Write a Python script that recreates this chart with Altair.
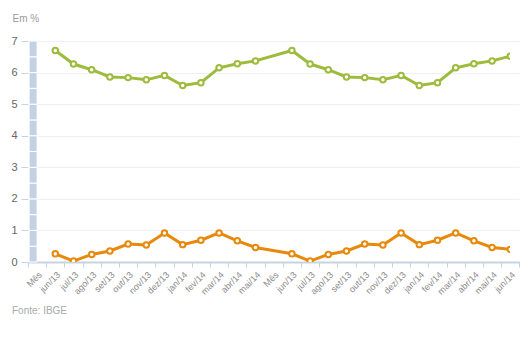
import altair as alt
import pandas as pd

# categories along the x axis (two sequences, each introduced by "Mês")
categorias = ["Mês", "jun/13", "jul/13", "ago/13", "set/13", "out/13", "nov/13", "dez/13",
              "jan/14", "fev/14", "mar/14", "abr/14", "mai/14",
              "Mês", "jun/13", "jul/13", "ago/13", "set/13", "out/13", "nov/13", "dez/13",
              "jan/14", "fev/14", "mar/14", "abr/14", "mai/14", "jun/14"]

# IPCA acumulado em 12 meses (verde)
acumulado_12m = [None, 6.70, 6.27, 6.09, 5.86, 5.84, 5.77, 5.91, 5.59, 5.68, 6.15, 6.28, 6.37,
                 None, 6.70, 6.27, 6.09, 5.86, 5.84, 5.77, 5.91, 5.59, 5.68, 6.15, 6.28, 6.37, 6.52]

# IPCA mensal (laranja)
mensal = [None, 0.26, 0.03, 0.24, 0.35, 0.57, 0.54, 0.92, 0.55, 0.69, 0.92, 0.67, 0.46,
          None, 0.26, 0.03, 0.24, 0.35, 0.57, 0.54, 0.92, 0.55, 0.69, 0.92, 0.67, 0.46, 0.40]

# column at the first "Mês" category, built of equal stacked segments
coluna_segmentos = [0.5] * 14

series = ["12 meses", "Mensal"]
cores = ["#9dbb3d", "#e8890c"]
y_ticks = [0, 1, 2, 3, 4, 5, 6, 7]
fonte = ["Fonte: IBGE"]

keys = [f"{i:02d}|{c}" for i, c in enumerate(categorias)]

rows = []
for k, v in zip(keys, acumulado_12m):
    if v is not None:
        rows.append({"cat": k, "valor": v, "serie": series[0]})
for k, v in zip(keys, mensal):
    if v is not None:
        rows.append({"cat": k, "valor": v, "serie": series[1]})
df = pd.DataFrame(rows)

df_bar = pd.DataFrame({"cat": [keys[0]] * len(coluna_segmentos),
                       "valor": coluna_segmentos,
                       "seg": list(range(len(coluna_segmentos)))})
df_txt = pd.DataFrame({"t": fonte})

FONT = "Liberation Sans"
W = 482
H = 221

x_scale = alt.Scale(domain=keys, paddingInner=0, paddingOuter=0, range=[0, 491.4])
y_scale = alt.Scale(domain=[0, 7], nice=False)

x_axis = alt.Axis(title=None, labelExpr="split(datum.value, '|')[1]", labelAngle=-45,
                  labelFontSize=9, labelColor="#8a8a8a", labelFont=FONT,
                  tickBand="extent", tickColor="#c6d4e2", tickSize=5, domain=False,
                  grid=False, labelPadding=3)
y_axis = alt.Axis(values=y_ticks, tickCount=8, labelOverlap=False,
                  title="Em %", titleAngle=0, titleX=-16, titleY=-20,
                  titleAlign="left", titleBaseline="alphabetic", titleFontWeight="normal",
                  titleColor="#9a9a9a", titleFontSize=10, titleFont=FONT,
                  labelColor="#666666", labelFontSize=11, labelFont=FONT,
                  tickColor="#c6d4e2", tickSize=7, labelPadding=4, domain=False,
                  gridColor=alt.condition("datum.value === 0", alt.value("#c6d4e2"), alt.value("#f0f0f0")),
                  gridWidth=alt.condition("datum.value === 0", alt.value(2), alt.value(1)))

bar = alt.Chart(df_bar).mark_bar(width=8, xOffset=-4, color="#c3d2e2", stroke="white",
                                 strokeWidth=1).encode(
    x=alt.X("cat:N", scale=x_scale, axis=x_axis, sort=keys),
    y=alt.Y("valor:Q", scale=y_scale, axis=y_axis, stack="zero"),
    detail="seg:N",
    order=alt.Order("seg:Q"),
)

line = alt.Chart(df).mark_line(strokeWidth=3, clip=True).encode(
    x=alt.X("cat:N", scale=x_scale, axis=x_axis, sort=keys),
    y=alt.Y("valor:Q", scale=y_scale, axis=y_axis),
    color=alt.Color("serie:N", scale=alt.Scale(domain=series, range=cores), legend=None),
)

pts = alt.Chart(df).mark_point(filled=True, fill="white", strokeWidth=2, size=30, opacity=1,
                               clip=True).encode(
    x=alt.X("cat:N", scale=x_scale, axis=x_axis, sort=keys),
    y=alt.Y("valor:Q", scale=y_scale, axis=y_axis),
    stroke=alt.Stroke("serie:N", scale=alt.Scale(domain=series, range=cores), legend=None),
)

txt = alt.Chart(df_txt).mark_text(align="left", baseline="middle", fontSize=10,
                                  color="#aaaaaa", font=FONT).encode(
    x=alt.value(-16), y=alt.value(270), text="t:N")

chart = alt.layer(bar, line, pts, txt).properties(
    width=W, height=H,
    autosize=alt.AutoSizeParams(type="none"),
    padding={"left": 28, "top": 41, "right": 20, "bottom": 90},
    background="white",
).configure_view(stroke=None)

chart.save("out.html", embed_options={"renderer": "svg", "actions": False})
